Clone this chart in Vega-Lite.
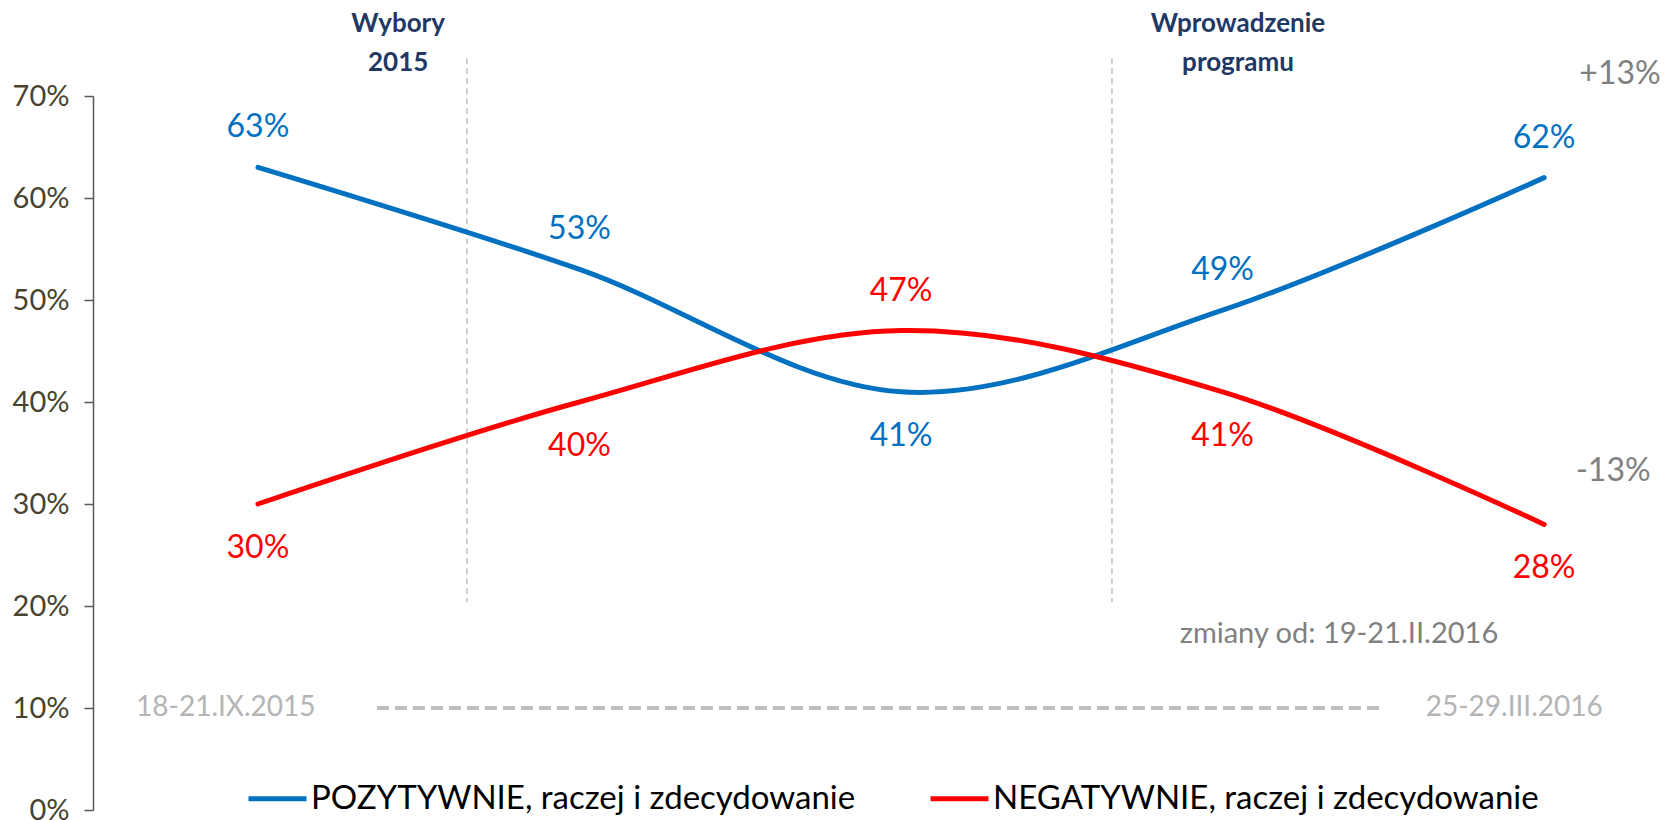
{
  "$schema": "https://vega.github.io/schema/vega-lite/v6.json",
  "autosize": "none",
  "width": 1573,
  "height": 714,
  "padding": {"left": 93, "top": 96, "right": 0, "bottom": 10},
  "background": "white",
  "config": {"view": {"stroke": null}, "font": "Lato"},
  "datasets": {
    "series": [
      {"idx": 0, "value": 0.63, "series": "POZYTYWNIE, raczej i zdecydowanie", "side": "above"},
      {"idx": 1, "value": 0.53, "series": "POZYTYWNIE, raczej i zdecydowanie", "side": "above"},
      {"idx": 2, "value": 0.41, "series": "POZYTYWNIE, raczej i zdecydowanie", "side": "below"},
      {"idx": 3, "value": 0.49, "series": "POZYTYWNIE, raczej i zdecydowanie", "side": "above"},
      {"idx": 4, "value": 0.62, "series": "POZYTYWNIE, raczej i zdecydowanie", "side": "above"},
      {"idx": 0, "value": 0.30, "series": "NEGATYWNIE, raczej i zdecydowanie", "side": "below"},
      {"idx": 1, "value": 0.40, "series": "NEGATYWNIE, raczej i zdecydowanie", "side": "below"},
      {"idx": 2, "value": 0.47, "series": "NEGATYWNIE, raczej i zdecydowanie", "side": "above"},
      {"idx": 3, "value": 0.41, "series": "NEGATYWNIE, raczej i zdecydowanie", "side": "below"},
      {"idx": 4, "value": 0.28, "series": "NEGATYWNIE, raczej i zdecydowanie", "side": "below"}
    ],
    "events": [
      {"idx": 0.65, "top": 0.737, "bottom": 0.204, "text": ["Wybory", "2015"], "tx": 0.436},
      {"idx": 2.656, "top": 0.737, "bottom": 0.204, "text": ["Wprowadzenie", "programu"], "tx": 3.048}
    ],
    "period": [
      {"start": 0.37, "end": 3.493, "value": 0.10}
    ],
    "dates": [
      {"idx": -0.1, "value": 0.10, "text": "18-21.IX.2015"},
      {"idx": 3.907, "value": 0.10, "text": "25-29.III.2016"}
    ],
    "changes": [
      {"idx": 4.236, "value": 0.7216, "text": "+13%", "size": "big"},
      {"idx": 4.215, "value": 0.332, "text": "-13%", "size": "big"},
      {"idx": 3.362, "value": 0.1725, "text": "zmiany od: 19-21.II.2016", "size": "small"}
    ]
  },
  "layer": [
    {
      "data": {"name": "events"},
      "mark": {"type": "rule", "color": "#BFBFBF", "strokeWidth": 1.5, "strokeDash": [6, 4]},
      "encoding": {
        "x": {"field": "idx", "type": "quantitative", "scale": {"domain": [-0.513, 4.379], "nice": false, "zero": false}, "axis": null},
        "y": {"field": "top", "type": "quantitative", "scale": {"domain": [0, 0.7], "nice": false}},
        "y2": {"field": "bottom"}
      }
    },
    {
      "data": {"name": "events"},
      "mark": {"type": "text", "font": "Lato", "fontWeight": "bold", "fontSize": 26, "color": "#1F3864", "align": "center", "baseline": "middle", "lineHeight": 39, "dy": -18},
      "encoding": {
        "x": {"field": "tx", "type": "quantitative"},
        "y": {"datum": 0.7525, "type": "quantitative"},
        "text": {"field": "text"}
      }
    },
    {
      "data": {"name": "period"},
      "mark": {"type": "rule", "color": "#BFBFBF", "strokeWidth": 4, "strokeDash": [12, 6]},
      "encoding": {
        "x": {"field": "start", "type": "quantitative"},
        "x2": {"field": "end"},
        "y": {"field": "value", "type": "quantitative"}
      }
    },
    {
      "data": {"name": "dates"},
      "mark": {"type": "text", "font": "Lato", "fontSize": 28, "color": "#B4B4B4", "align": "center", "baseline": "middle"},
      "encoding": {
        "x": {"field": "idx", "type": "quantitative"},
        "y": {"field": "value", "type": "quantitative"},
        "text": {"field": "text"}
      }
    },
    {
      "data": {"name": "changes"},
      "transform": [{"filter": "datum.size === 'big'"}],
      "mark": {"type": "text", "font": "Lato", "fontSize": 32, "color": "#808080", "align": "center", "baseline": "middle"},
      "encoding": {
        "x": {"field": "idx", "type": "quantitative"},
        "y": {"field": "value", "type": "quantitative"},
        "text": {"field": "text"}
      }
    },
    {
      "data": {"name": "changes"},
      "transform": [{"filter": "datum.size === 'small'"}],
      "mark": {"type": "text", "font": "Lato", "fontSize": 29, "color": "#808080", "align": "center", "baseline": "middle"},
      "encoding": {
        "x": {"field": "idx", "type": "quantitative"},
        "y": {"field": "value", "type": "quantitative"},
        "text": {"field": "text"}
      }
    },
    {
      "data": {"name": "series"},
      "mark": {"type": "line", "interpolate": "cardinal", "strokeWidth": 5, "strokeCap": "round"},
      "encoding": {
        "x": {"field": "idx", "type": "quantitative"},
        "y": {
          "field": "value", "type": "quantitative",
          "axis": {
            "format": ".0%", "values": [0, 0.1, 0.2, 0.3, 0.4, 0.5, 0.6, 0.7],
            "title": null, "grid": false,
            "labelFont": "Lato", "labelFontSize": 29, "labelColor": "#48432F", "labelPadding": 15,
            "domainColor": "#595959", "domainWidth": 1.5, "tickColor": "#595959", "tickWidth": 1.5, "tickSize": 9
          }
        },
        "color": {
          "field": "series", "type": "nominal",
          "scale": {"domain": ["POZYTYWNIE, raczej i zdecydowanie", "NEGATYWNIE, raczej i zdecydowanie"], "range": ["#0070C0", "#FF0000"]},
          "legend": {
            "title": null, "orient": "none", "direction": "horizontal",
            "legendX": 153, "legendY": 671,
            "symbolType": "stroke", "symbolStrokeWidth": 5, "symbolSize": 3364,
            "labelFont": "Lato", "labelFontSize": 33, "labelColor": "#000000", "labelOffset": 2,
            "columnPadding": 64, "labelLimit": 800
          }
        }
      }
    },
    {
      "data": {"name": "series"},
      "transform": [{"filter": "datum.side === 'above'"}],
      "mark": {"type": "text", "font": "Lato", "fontSize": 32, "baseline": "middle", "align": "center", "dy": -40},
      "encoding": {
        "x": {"field": "idx", "type": "quantitative"},
        "y": {"field": "value", "type": "quantitative"},
        "text": {"field": "value", "type": "quantitative", "format": ".0%"},
        "color": {"field": "series", "type": "nominal", "legend": null}
      }
    },
    {
      "data": {"name": "series"},
      "transform": [{"filter": "datum.side === 'below'"}],
      "mark": {"type": "text", "font": "Lato", "fontSize": 32, "baseline": "middle", "align": "center", "dy": 44},
      "encoding": {
        "x": {"field": "idx", "type": "quantitative"},
        "y": {"field": "value", "type": "quantitative"},
        "text": {"field": "value", "type": "quantitative", "format": ".0%"},
        "color": {"field": "series", "type": "nominal", "legend": null}
      }
    }
  ]
}
